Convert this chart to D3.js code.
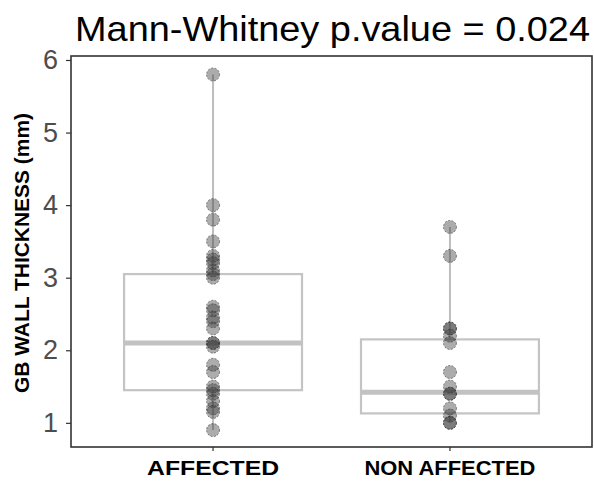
<!DOCTYPE html>
<html>
<head>
<meta charset="utf-8">
<script src="https://cdn.jsdelivr.net/npm/d3@7"></script>
<style>
  html, body { margin: 0; padding: 0; background: #fff; }
  svg { display: block; font-family: Arial, "Liberation Sans", sans-serif; }
</style>
</head>
<body>
<svg id="chart" width="594" height="481"></svg>
<script>
// ---- data ----
const categories = ["AFFECTED", "NON AFFECTED"];
const affectedValues = [5.8, 4.0, 3.8, 3.5, 3.3, 3.25, 3.2, 3.1, 3.05, 3.0, 2.6, 2.55, 2.45, 2.4, 2.3, 2.1, 2.1, 2.05, 1.8, 1.7, 1.5, 1.45, 1.4, 1.3, 1.2, 1.15, 0.9];
const nonAffectedValues = [3.7, 3.3, 2.3, 2.3, 2.2, 2.1, 1.7, 1.5, 1.4, 1.4, 1.2, 1.1, 1.0, 1.0];
// box stats: [lower whisker, Q1, median, Q3, upper whisker]
const affectedBox = [0.9, 1.45, 2.1, 3.05, 5.8];
const nonAffectedBox = [1.0, 1.13, 1.42, 2.15, 3.7];
const yTicks = [1, 2, 3, 4, 5, 6];
const titleText = "Mann-Whitney p.value = 0.024";
const yTitle = "GB WALL THICKNESS";
const yUnit = "(mm)";

const groups = [
  { name: categories[0], values: affectedValues, box: affectedBox },
  { name: categories[1], values: nonAffectedValues, box: nonAffectedBox }
];

// ---- layout ----
const svg = d3.select("#chart");
const panel = { left: 71, top: 56, right: 592, bottom: 447 };

const y = d3.scaleLinear().domain([0.667, 6.055]).range([panel.bottom, panel.top]);
const x = d3.scaleBand().domain(categories)
  .range([panel.left, panel.right]).paddingInner(0.249).paddingOuter(0.224);

// title
svg.append("text")
  .attr("x", 75).attr("y", 41)
  .attr("font-size", 35).attr("fill", "#000")
  .attr("textLength", 515).attr("lengthAdjust", "spacingAndGlyphs")
  .text(titleText);

// panel
const g = svg.append("g");

groups.forEach(grp => {
  const cx = x(grp.name) + x.bandwidth() / 2;
  const [lo, q1, med, q3, hi] = grp.box;
  g.append("line").attr("x1", cx).attr("x2", cx)
    .attr("y1", y(q3)).attr("y2", y(hi))
    .attr("stroke", "#bdbdbd").attr("stroke-width", 2);
  g.append("line").attr("x1", cx).attr("x2", cx)
    .attr("y1", y(q1)).attr("y2", y(lo))
    .attr("stroke", "#bdbdbd").attr("stroke-width", 2);
  g.append("rect")
    .attr("x", x(grp.name)).attr("width", x.bandwidth())
    .attr("y", y(q3)).attr("height", y(q1) - y(q3))
    .attr("fill", "#fff").attr("stroke", "#c4c4c4").attr("stroke-width", 2.2);
  g.append("line")
    .attr("x1", x(grp.name)).attr("x2", x(grp.name) + x.bandwidth())
    .attr("y1", y(med)).attr("y2", y(med))
    .attr("stroke", "#c2c2c2").attr("stroke-width", 5);
});

// points
groups.forEach(grp => {
  const cx = x(grp.name) + x.bandwidth() / 2;
  g.selectAll(null).data(grp.values).enter().append("circle")
    .attr("cx", cx).attr("cy", d => y(d)).attr("r", 6.5)
    .attr("fill", "#3a3a3a").attr("fill-opacity", 0.42)
    .attr("stroke", "#222").attr("stroke-opacity", 0.5)
    .attr("stroke-width", 1).attr("stroke-dasharray", "2,1.5");
});

// panel border
svg.append("rect")
  .attr("x", panel.left).attr("y", panel.top)
  .attr("width", panel.right - panel.left).attr("height", panel.bottom - panel.top)
  .attr("fill", "none").attr("stroke", "#333").attr("stroke-width", 1.6);

// y axis
const yAxis = d3.axisLeft(y).tickValues(yTicks).tickSize(5).tickPadding(8).tickFormat(d3.format("d"));
const ya = svg.append("g").attr("transform", `translate(${panel.left},0)`).call(yAxis);
ya.select(".domain").remove();
ya.selectAll(".tick line").attr("stroke", "#333").attr("stroke-width", 1.2);
ya.selectAll(".tick text").attr("font-size", 27).attr("fill", "#4d4d4d")
  .attr("font-family", "Arial, 'Liberation Sans', sans-serif");

// x axis
const xLabelWidths = [132, 171];
const xAxis = d3.axisBottom(x).tickSize(4).tickPadding(9);
const xa = svg.append("g").attr("transform", `translate(0,${panel.bottom})`).call(xAxis);
xa.select(".domain").remove();
xa.selectAll(".tick line").attr("stroke", "#333").attr("stroke-width", 1.2);
xa.selectAll(".tick text").attr("font-size", 21).attr("font-weight", "bold").attr("fill", "#000")
  .attr("font-family", "Arial, 'Liberation Sans', sans-serif")
  .attr("textLength", (d, i) => xLabelWidths[i]).attr("lengthAdjust", "spacingAndGlyphs");

// y title
const yt = svg.append("text")
  .attr("transform", `translate(29,253) rotate(-90)`)
  .attr("text-anchor", "middle").attr("font-size", 20).attr("font-weight", "bold").attr("fill", "#000")
  .attr("textLength", 280).attr("lengthAdjust", "spacingAndGlyphs");
yt.append("tspan").text(yTitle + " ");
yt.append("tspan").text(yUnit);
</script>
</body>
</html>
